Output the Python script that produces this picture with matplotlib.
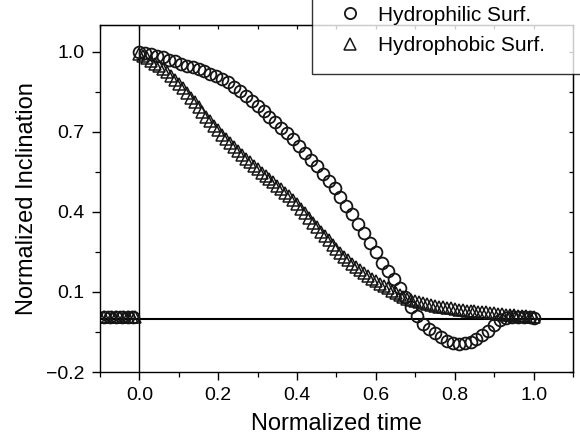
"""
Normalized inclination vs normalized time for hydrophilic / hydrophobic surfaces.
"""

import matplotlib
matplotlib.use("Agg")
import matplotlib.pyplot as plt
from matplotlib.ticker import MultipleLocator, FixedLocator, NullFormatter

plt.rcParams["font.family"] = ["Liberation Sans", "DejaVu Sans"]

# hydrophilic surface (circles)
philic_time = [
    -0.090, -0.075, -0.060, -0.045, -0.030, -0.015,
    0.000, 0.015, 0.030, 0.045, 0.060, 0.075, 0.090, 0.105, 0.120, 0.135,
    0.150, 0.165, 0.180, 0.195, 0.210, 0.225, 0.240, 0.255, 0.270, 0.285,
    0.300, 0.315, 0.330, 0.345, 0.360, 0.375, 0.390, 0.405, 0.420, 0.435,
    0.450, 0.465, 0.480, 0.495, 0.510, 0.525, 0.540, 0.555, 0.570, 0.585,
    0.600, 0.615, 0.630, 0.645, 0.660, 0.675, 0.690, 0.705, 0.720, 0.735,
    0.750, 0.765, 0.780, 0.795, 0.810, 0.825, 0.840, 0.855, 0.870, 0.885,
    0.900, 0.915, 0.930, 0.945, 0.960, 0.975, 0.990, 1.000,
]
philic_incl = [
    0.005, 0.005, 0.005, 0.005, 0.005, 0.005,
    1.000, 0.995, 0.990, 0.985, 0.978, 0.970, 0.963, 0.955, 0.948, 0.942,
    0.935, 0.927, 0.918, 0.907, 0.897, 0.885, 0.868, 0.851, 0.833, 0.815,
    0.795, 0.776, 0.757, 0.738, 0.715, 0.695, 0.672, 0.645, 0.620, 0.595,
    0.570, 0.540, 0.515, 0.490, 0.455, 0.420, 0.390, 0.355, 0.320, 0.285,
    0.250, 0.210, 0.178, 0.150, 0.115, 0.080, 0.045, 0.010, -0.020, -0.040,
    -0.055, -0.070, -0.085, -0.092, -0.095, -0.093, -0.088, -0.075, -0.060, -0.045,
    -0.025, -0.005, 0.003, 0.005, 0.005, 0.005, 0.005, 0.003,
]

# hydrophobic surface (triangles)
phobic_time = [
    -0.10, -0.09, -0.08, -0.07, -0.06, -0.05, -0.04, -0.03, -0.02, -0.01,
    0.00, 0.01, 0.02, 0.03, 0.04, 0.05, 0.06, 0.07, 0.08, 0.09,
    0.10, 0.11, 0.12, 0.13, 0.14, 0.15, 0.16, 0.17, 0.18, 0.19,
    0.20, 0.21, 0.22, 0.23, 0.24, 0.25, 0.26, 0.27, 0.28, 0.29,
    0.30, 0.31, 0.32, 0.33, 0.34, 0.35, 0.36, 0.37, 0.38, 0.39,
    0.40, 0.41, 0.42, 0.43, 0.44, 0.45, 0.46, 0.47, 0.48, 0.49,
    0.50, 0.51, 0.52, 0.53, 0.54, 0.55, 0.56, 0.57, 0.58, 0.59,
    0.60, 0.61, 0.62, 0.63, 0.64, 0.65, 0.66, 0.67, 0.68, 0.69,
    0.70, 0.71, 0.72, 0.73, 0.74, 0.75, 0.76, 0.77, 0.78, 0.79,
    0.80, 0.81, 0.82, 0.83, 0.84, 0.85, 0.86, 0.87, 0.88, 0.89,
    0.90, 0.91, 0.92, 0.93, 0.94, 0.95, 0.96, 0.97, 0.98, 0.99, 1.00,
]
phobic_incl = [
    0.005, 0.005, 0.005, 0.005, 0.005, 0.005, 0.005, 0.005, 0.005, 0.005,
    0.990, 0.983, 0.975, 0.965, 0.955, 0.945, 0.935, 0.923, 0.910, 0.895,
    0.880, 0.863, 0.845, 0.828, 0.810, 0.792, 0.775, 0.757, 0.740, 0.722,
    0.705, 0.688, 0.672, 0.657, 0.642, 0.627, 0.612, 0.598, 0.585, 0.572,
    0.560, 0.547, 0.535, 0.522, 0.510, 0.497, 0.485, 0.472, 0.460, 0.445,
    0.430, 0.412, 0.395, 0.377, 0.360, 0.342, 0.325, 0.309, 0.293, 0.277,
    0.262, 0.247, 0.232, 0.218, 0.205, 0.193, 0.182, 0.171, 0.160, 0.150,
    0.140, 0.131, 0.122, 0.113, 0.104, 0.096, 0.088, 0.081, 0.075, 0.070,
    0.065, 0.061, 0.057, 0.053, 0.050, 0.047, 0.045, 0.042, 0.040, 0.038,
    0.036, 0.034, 0.032, 0.030, 0.029, 0.027, 0.026, 0.024, 0.023, 0.021,
    0.020, 0.018, 0.017, 0.015, 0.014, 0.012, 0.011, 0.009, 0.008, 0.006, 0.005,
]

x_ticks = [0.0, 0.2, 0.4, 0.6, 0.8, 1.0]
y_ticks = [-0.2, 0.1, 0.4, 0.7, 1.0]

fig = plt.figure(figsize=(5.8, 4.45), dpi=100)
ax = fig.add_axes([0.1724, 0.164, 0.8155, 0.780])

ax.axhline(0, color="black", lw=1.5, zorder=1)
ax.axvline(0, color="black", lw=1.0, zorder=1)

h_philic, = ax.plot(philic_time, philic_incl, linestyle="none", marker="o", ms=8.5,
                    mfc="none", mec="#151515", mew=1.3, label="Hydrophilic Surf.")
h_phobic, = ax.plot(phobic_time, phobic_incl, linestyle="none", marker="^", ms=8.5,
                    mfc="none", mec="#151515", mew=1.1, label="Hydrophobic Surf.")

ax.set_xlim(-0.1, 1.1)
ax.set_ylim(-0.2, 1.1)
ax.xaxis.set_major_locator(FixedLocator(x_ticks))
ax.xaxis.set_minor_locator(MultipleLocator(0.1))
ax.yaxis.set_major_locator(FixedLocator(y_ticks))
ax.yaxis.set_minor_locator(MultipleLocator(0.15, offset=0.1))
ax.set_xticklabels([f"{v:.1f}" for v in x_ticks])
ax.set_yticklabels([f"{v:.1f}".replace("-", "\u2212") for v in y_ticks])
ax.tick_params(which="major", direction="out", length=6, width=1.0, labelsize=14, pad=5)
ax.tick_params(which="minor", direction="out", length=3.5, width=0.9)

# inward ticks on the top and right frame, no labels
top = ax.secondary_xaxis("top")
top.xaxis.set_major_locator(FixedLocator(x_ticks))
top.xaxis.set_minor_locator(MultipleLocator(0.1))
top.xaxis.set_major_formatter(NullFormatter())
top.tick_params(which="both", direction="in", length=3, width=0.9)
right = ax.secondary_yaxis("right")
right.yaxis.set_major_locator(FixedLocator(y_ticks))
right.yaxis.set_minor_locator(MultipleLocator(0.15, offset=0.1))
right.yaxis.set_major_formatter(NullFormatter())
right.tick_params(which="both", direction="in", length=3, width=0.9)

for sp in ax.spines.values():
    sp.set_linewidth(1.0)

ax.set_xlabel("Normalized time", fontsize=17, labelpad=6)
ax.set_ylabel("Normalized Inclination", fontsize=17, labelpad=6)

leg = fig.legend(handles=[h_philic, h_phobic], loc="lower left", mode="expand",
                 bbox_to_anchor=(0.538, 0.834, 0.472, 0.2), fontsize=15, frameon=True,
                 fancybox=False, edgecolor="black", borderpad=0.9,
                 labelspacing=0.55, handlelength=1.8, handletextpad=0.45,
                 markerscale=0.95, borderaxespad=0)
leg.get_frame().set_linewidth(1.0)

fig.savefig("out.png", dpi=100)
